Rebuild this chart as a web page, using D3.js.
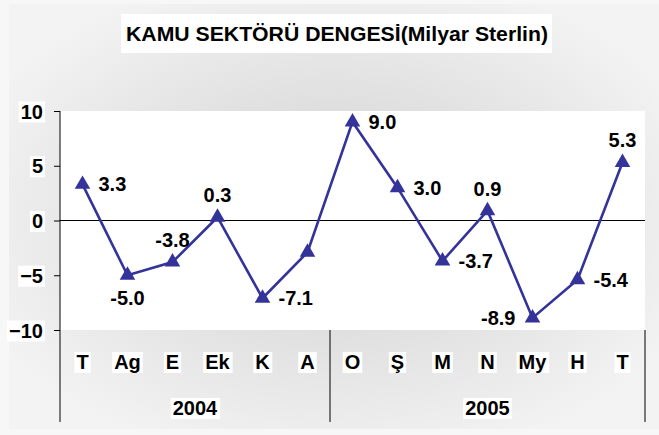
<!DOCTYPE html>
<html>
<head>
<meta charset="utf-8">
<script src="https://d3js.org/d3.v7.min.js"></script>
<style>
  body { margin: 0; background: #f7f7f7; }
  text { font-family: "Liberation Sans", Arial, sans-serif; font-weight: bold; }
</style>
</head>
<body>
<svg id="chart" width="659" height="435"></svg>
<script>
const months = ["T", "Ag", "E", "Ek", "K", "A", "O", "Ş", "M", "N", "My", "H", "T"];
const balance = [3.3, -5.0, -3.8, 0.3, -7.1, -2.9, 9.0, 3.0, -3.7, 0.9, -8.9, -5.4, 5.3];
// where excel put each data label (null = no label)
const labelPos = ["right", "below", "above", "above", "right", null, "right", "right", "right", "above", "left", "right", "above"];
const years = ["2004", "2005"];
const monthsPerYear = [6, 7];
const yTicks = [-10, -5, 0, 5, 10];

const svg = d3.select("#chart");
const plotL = 60, plotR = 645, plotT = 111, plotB = 330;
const fs = 20;

// background with a soft grey gradient
const defs = svg.append("defs");
const grad = defs.append("radialGradient").attr("id", "bg")
  .attr("cx", "50%").attr("cy", "50%").attr("r", "60%");
grad.append("stop").attr("offset", "0%").attr("stop-color", "#d0d0d0");
grad.append("stop").attr("offset", "100%").attr("stop-color", "#f3f3f3");
svg.append("rect").attr("x", 9).attr("y", 4).attr("width", 650).attr("height", 425)
  .attr("fill", "url(#bg)");

// title
svg.append("rect").attr("x", 121).attr("y", 14).attr("width", 431).attr("height", 39)
  .attr("fill", "#fff");
svg.append("text").attr("x", 337).attr("y", 41).attr("text-anchor", "middle")
  .attr("font-size", 19.5).attr("textLength", 422).attr("lengthAdjust", "spacingAndGlyphs")
  .text("KAMU SEKTÖRÜ DENGESİ(Milyar Sterlin)");

const x = d3.scaleBand().domain(d3.range(months.length)).range([plotL, plotR]);
const y = d3.scaleLinear().domain([-10, 10]).range([plotB, plotT]);

svg.append("rect").attr("x", plotL).attr("y", plotT).attr("width", plotR - plotL).attr("height", plotB - plotT)
  .attr("fill", "#fff");

// y axis
const yAxis = svg.append("g").attr("transform", `translate(${plotL},0)`)
  .call(d3.axisLeft(y).tickValues(yTicks).tickSize(6).tickPadding(11).tickFormat(d3.format("d")));
yAxis.select(".domain").remove();
yAxis.selectAll("line").attr("stroke", "#000");
yAxis.selectAll("text").attr("font-size", fs).attr("fill", "#000")
  .attr("font-family", "Liberation Sans, Arial, sans-serif").attr("dy", "0.35em");
svg.append("line").attr("x1", plotL).attr("x2", plotL).attr("y1", plotT).attr("y2", 422).attr("stroke", "#000");

// zero line
svg.append("line").attr("x1", plotL).attr("x2", plotR).attr("y1", y(0)).attr("y2", y(0))
  .attr("stroke", "#000").attr("stroke-width", 1);

// year separators
let cum = 0;
const seps = [];
monthsPerYear.forEach(n => { cum += n; seps.push(cum); });
seps.forEach(i => {
  const xx = i < months.length ? x(i) : plotR;
  svg.append("line").attr("x1", xx).attr("x2", xx).attr("y1", plotB).attr("y2", 422)
    .attr("stroke", "#000");
});

// labels with white boxes
function boxed(g, xx, yy, txt, size, anchor) {
  const t = g.append("text").attr("x", xx).attr("y", yy).attr("dy", "0.35em")
    .attr("text-anchor", anchor || "middle").attr("font-size", size).text(txt);
  const b = t.node().getBBox();
  g.insert("rect", "text").attr("x", b.x - 2).attr("y", b.y + 1).attr("width", b.width + 4).attr("height", b.height - 1)
    .attr("fill", "#fff");
  return t;
}
yAxis.selectAll(".tick").each(function() {
  const t = d3.select(this).select("text");
  const b = t.node().getBBox();
  d3.select(this).insert("rect", "text").attr("x", b.x - 2).attr("y", b.y + 1).attr("width", b.width + 4)
    .attr("height", b.height - 1).attr("fill", "#fff");
});

months.forEach((m, i) => {
  boxed(svg.append("g"), x(i) + x.bandwidth() / 2, 362, m, fs);
});
let start = 0;
years.forEach((yr, k) => {
  const end = start + monthsPerYear[k];
  const x0 = x(start), x1 = end < months.length ? x(end) : plotR;
  boxed(svg.append("g"), (x0 + x1) / 2, 408, yr, fs);
  start = end;
});

// line + markers
const cx = i => x(i) + x.bandwidth() / 2;
const line = d3.line().x((d, i) => cx(i)).y(d => y(d));
svg.append("path").datum(balance).attr("d", line).attr("fill", "none")
  .attr("stroke", "#333399").attr("stroke-width", 2.6);
const tri = d3.symbol().type(d3.symbolTriangle).size(105);
svg.selectAll("path.marker").data(balance).join("path").attr("class", "marker")
  .attr("d", tri).attr("fill", "#333399")
  .attr("transform", (d, i) => `translate(${cx(i)},${y(d)})`);

// data labels
const pts = balance.map((v, i) => ({ v, i, pos: labelPos[i] })).filter(d => d.pos !== null);
svg.selectAll("text.val").data(pts).join("text").attr("class", "val")
  .attr("font-size", fs).attr("dy", "0.35em")
  .attr("x", d => d.pos === "right" ? cx(d.i) + 16 : d.pos === "left" ? cx(d.i) - 17 : cx(d.i))
  .attr("y", d => d.pos === "above" ? y(d.v) - 22 : d.pos === "below" ? y(d.v) + 23 : y(d.v))
  .attr("text-anchor", d => d.pos === "right" ? "start" : d.pos === "left" ? "end" : "middle")
  .text(d => d.v.toFixed(1));
</script>
</body>
</html>
